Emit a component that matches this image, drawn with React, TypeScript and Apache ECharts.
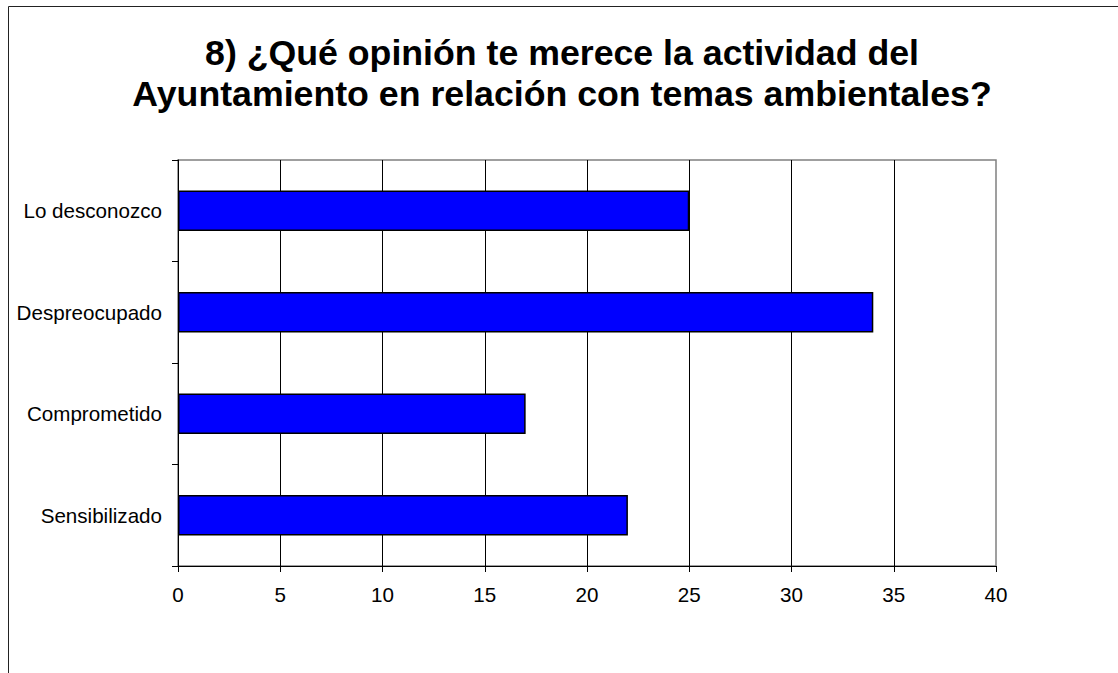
import React, { useEffect, useRef } from "react";
import * as echarts from "echarts";

const titleLines = [
  "8) ¿Qué opinión te merece la actividad del",
  "Ayuntamiento en relación con temas ambientales?",
];
const categories = ["Sensibilizado", "Comprometido", "Despreocupado", "Lo desconozco"];
const values = [22, 17, 34, 25];
const xMin = 0;
const xMax = 40;
const xStep = 5;

const FONT = "'Liberation Sans', Arial, Helvetica, sans-serif";

export default function App() {
  const ref = useRef<HTMLDivElement>(null);
  useEffect(() => {
    if (!ref.current) return;
    const chart = echarts.init(ref.current, undefined, { renderer: "svg" });
    chart.setOption({
      animation: false,
      backgroundColor: "#ffffff",
      graphic: [
        {
          type: "text",
          x: 562,
          y: 32,
          silent: true,
          style: {
            text: titleLines.join("\n"),
            align: "center",
            verticalAlign: "top",
            fontFamily: FONT,
            fontSize: 35.7,
            fontWeight: "bold",
            lineHeight: 41,
            fill: "#000",
          },
        },
        {
          type: "rect",
          shape: { x: 8.5, y: 6.5, width: 3000, height: 3000 },
          style: { fill: "none", stroke: "#222", lineWidth: 1 },
          silent: true,
          z: 100,
        },
      ],
      grid: {
        left: 178,
        right: 122,
        top: 160,
        bottom: 107,
        show: true,
        borderColor: "#808080",
        borderWidth: 1.5,
        backgroundColor: "transparent",
      },
      xAxis: {
        type: "value",
        min: xMin,
        max: xMax,
        interval: xStep,
        axisLine: { show: true, lineStyle: { color: "#000", width: 1 } },
        axisTick: { show: true, length: 6, lineStyle: { color: "#000" } },
        axisLabel: { fontFamily: FONT, fontSize: 20.6, color: "#000", margin: 18 },
        splitLine: { show: true, showMaxLine: false, lineStyle: { color: "#000", width: 1 } },
      },
      yAxis: {
        type: "category",
        data: categories,
        axisLine: { show: true, lineStyle: { color: "#000", width: 1 } },
        axisTick: { show: true, length: 6, alignWithLabel: false, lineStyle: { color: "#000" } },
        axisLabel: { fontFamily: FONT, fontSize: 20.6, color: "#000", margin: 16 },
        splitLine: { show: false },
      },
      series: [
        {
          type: "bar",
          data: values,
          barWidth: "40%",
          itemStyle: { color: "#0000FF", borderColor: "#000", borderWidth: 1.5 },
        },
      ],
    });
    return () => chart.dispose();
  }, []);
  return (
    <div
      ref={ref}
      style={{ position: "absolute", left: 0, top: 0, width: 1118, height: 673 }}
    />
  );
}
